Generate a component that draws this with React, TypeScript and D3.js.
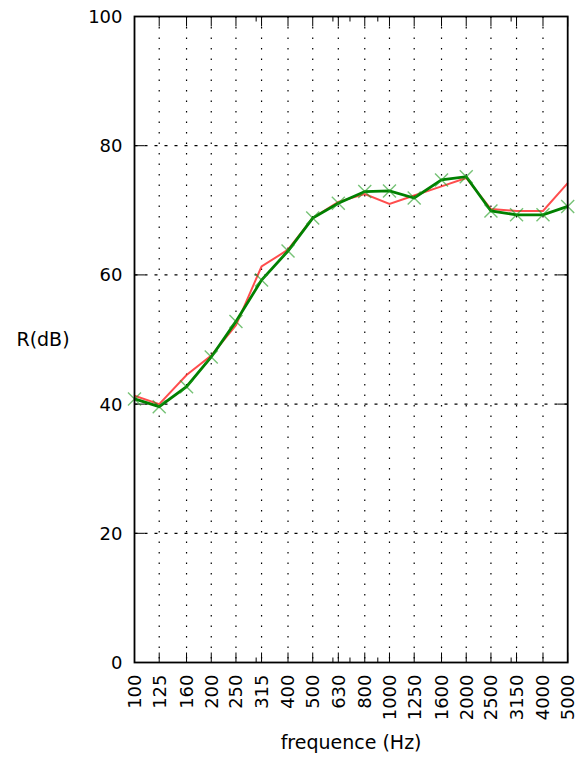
import React from "react";
import * as d3 from "d3";

// third-octave bands and the two measured curves
const freqs = [100, 125, 160, 200, 250, 315, 400, 500, 630, 800, 1000, 1250, 1600, 2000, 2500, 3150, 4000, 5000];
const redValues = [41.3, 40.0, 44.5, 47.5, 52.2, 61.3, 63.9, 68.8, 71.3, 72.5, 71.0, 72.3, 73.7, 75.0, 70.2, 69.9, 69.9, 74.2];
const greenValues = [40.8, 39.6, 42.7, 47.3, 52.8, 59.2, 63.7, 68.8, 71.1, 72.9, 73.0, 71.9, 74.7, 75.2, 69.9, 69.3, 69.3, 70.6];
const yTicks = [0, 20, 40, 60, 80, 100];

const W = 575, H = 757;
const margin = { left: 134.5, right: 7.3, top: 16.5, bottom: 94.5 };
const font = "DejaVu Sans, sans-serif";

export default function App() {
  const x = d3.scaleLog().domain([100, 5000]).range([margin.left, W - margin.right]);
  const y = d3.scaleLinear().domain([0, 100]).range([H - margin.bottom, margin.top]);
  const [x0, x1] = x.range();
  const [y0, y1] = y.range();

  const minor = x.ticks().filter((t) => !freqs.includes(t));

  const line = (vals: number[]) =>
    d3.line<number>().x((_, i) => x(freqs[i])).y((d) => y(d))(vals) || "";

  const majorLen = 10, minorLen = 5;

  return (
    <svg width={W} height={H} style={{ position: "absolute", left: 0, top: 0 }} fontFamily={font}>
      <rect width={W} height={H} fill="white" />
      {/* grid */}
      {freqs.slice(1, -1).map((f) => (
        <line key={"gx" + f} x1={x(f)} x2={x(f)} y1={y1} y2={y0} stroke="black" strokeWidth={1.2} strokeDasharray="1.5,9" />
      ))}
      {yTicks.slice(1, -1).map((v) => (
        <line key={"gy" + v} x1={x0} x2={x1} y1={y(v)} y2={y(v)} stroke="black" strokeWidth={1.2} strokeDasharray="3,7" />
      ))}
      {/* ticks on all sides */}
      {freqs.map((f) => (
        <g key={"tx" + f}>
          <line x1={x(f)} x2={x(f)} y1={y0} y2={y0 - majorLen} stroke="black" strokeWidth={1} />
          <line x1={x(f)} x2={x(f)} y1={y1} y2={y1 + majorLen} stroke="black" strokeWidth={1} />
        </g>
      ))}
      {minor.map((f) => (
        <g key={"mx" + f}>
          <line x1={x(f)} x2={x(f)} y1={y0} y2={y0 - minorLen} stroke="black" strokeWidth={1} />
          <line x1={x(f)} x2={x(f)} y1={y1} y2={y1 + minorLen} stroke="black" strokeWidth={1} />
        </g>
      ))}
      {yTicks.map((v) => (
        <g key={"ty" + v}>
          <line x1={x0} x2={x0 + majorLen} y1={y(v)} y2={y(v)} stroke="black" strokeWidth={1} />
          <line x1={x1} x2={x1 - majorLen} y1={y(v)} y2={y(v)} stroke="black" strokeWidth={1} />
        </g>
      ))}
      {/* series */}
      <path d={line(redValues)} fill="none" stroke="#ff2020" strokeOpacity={0.8} strokeWidth={2} />
      <path d={line(greenValues)} fill="none" stroke="#008000" strokeWidth={2.8} />
      {greenValues.map((v, i) => {
        const cx = x(freqs[i]), cy = y(v), s = 6.5;
        return (
          <path key={"m" + i} d={`M${cx - s},${cy - s}L${cx + s},${cy + s}M${cx - s},${cy + s}L${cx + s},${cy - s}`}
            stroke="#1a9a1a" strokeOpacity={0.6} strokeWidth={1.4} />
        );
      })}
      {/* frame */}
      <rect x={x0} y={y1} width={x1 - x0} height={y0 - y1} fill="none" stroke="black" strokeWidth={1.8} />
      {/* tick labels */}
      {yTicks.map((v) => (
        <text key={"ly" + v} x={x0 - 12} y={y(v)} dy="0.36em" textAnchor="end" fontSize={18}>{v}</text>
      ))}
      {freqs.map((f) => (
        <text key={"lx" + f} transform={`translate(${x(f)},${y0 + 12}) rotate(-90)`} dy="0.36em" textAnchor="end" fontSize={18}>{f}</text>
      ))}
      <text x={(x0 + x1) / 2} y={749} textAnchor="middle" fontSize={19}>frequence (Hz)</text>
      <text x={43} y={346} textAnchor="middle" fontSize={19}>R(dB)</text>
    </svg>
  );
}
